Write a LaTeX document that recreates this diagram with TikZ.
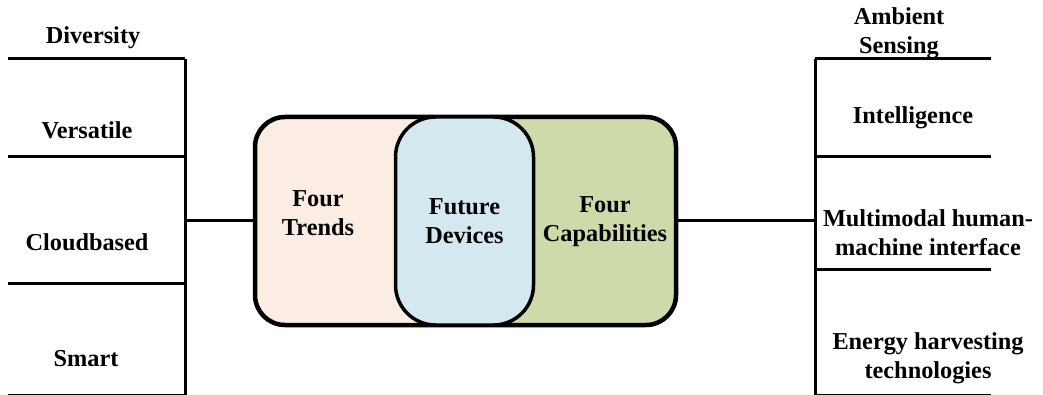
\documentclass[tikz,border=0pt]{standalone}
\usepackage{fontspec}
\setmainfont{Liberation Serif}
\definecolor{trendfill}{HTML}{FBEDE3}
\definecolor{corefill}{HTML}{D3E9EF}
\definecolor{capfill}{HTML}{CCDBA9}
\begin{document}
\begin{tikzpicture}[x=1pt,y=-1pt,
  lbl/.style={font=\fontsize{24.3}{29}\selectfont\bfseries, align=center, inner sep=0pt},
  rule/.style={line width=3pt},
  frame/.style={draw, line width=4.5pt, rounded corners=30pt,
    minimum width=421pt, minimum height=208pt, inner sep=0pt},
  corebox/.style={draw, line width=3.5pt, rounded corners=40pt, fill=corefill,
    minimum width=138pt, minimum height=208pt, inner sep=0pt}]
\useasboundingbox (0,0) rectangle (1043,395);

% central block: two coloured halves with the core panel on top
\node[frame, path picture={
    \fill[trendfill] (path picture bounding box.south west) rectangle (path picture bounding box.north);
    \fill[capfill] (path picture bounding box.south) rectangle (path picture bounding box.north east);
  }] (dev) at (465.5,221) {};
\node[corebox, lbl] (core) at (464.5,221) {Future\\Devices};
\node[lbl] (trends) at (318,213) {Four\\Trends};
\node[lbl] (caps) at (605,222) {Four\\Capabilities};

% left bracket
\coordinate (lj) at (185,221);
\coordinate (l0) at (185,59);
\coordinate (l1) at (185,157);
\coordinate (l2) at (185,283);
\coordinate (l3) at (185,395.5);
\coordinate (l0e) at (8,59);
\coordinate (l1e) at (8,157);
\coordinate (l2e) at (8,283);
\coordinate (l3e) at (8,395.5);
\draw[rule] (l0) -- (185,397);
\draw[rule] (l0e) -- (l0);
\draw[rule] (l1e) -- (l1);
\draw[rule] (l2e) -- (l2);
\draw[rule] (l3e) -- (l3);
\draw[rule] (dev.west) -- (lj);

% right bracket
\coordinate (rj) at (815,221);
\coordinate (r0) at (815,59);
\coordinate (r1) at (815,157);
\coordinate (r2) at (815,269);
\coordinate (r3) at (815,395.5);
\coordinate (r0e) at (991,59);
\coordinate (r1e) at (991,157);
\coordinate (r2e) at (991,269);
\coordinate (r3e) at (991,395.5);
\draw[rule] (r0) -- (815,397);
\draw[rule] (r0) -- (r0e);
\draw[rule] (r1) -- (r1e);
\draw[rule] (r2) -- (r2e);
\draw[rule] (r3) -- (r3e);
\draw[rule] (dev.east) -- (rj);

% trend labels
\node[lbl] (diversity) at (93,38) {Diversity};
\node[lbl] (versatile) at (87,130) {Versatile};
\node[lbl] (cloud) at (87,242) {Cloudbased};
\node[lbl] (smart) at (86,359) {Smart};

% capability labels
\node[lbl] (ambient) at (899,33) {Ambient\\Sensing};
\node[lbl] (intel) at (913,118) {Intelligence};
\node[lbl] (hmi) at (928,233) {Multimodal human-\\machine interface};
\node[lbl] (energy) at (928,358) {Energy harvesting\\technologies};
\end{tikzpicture}
\end{document}
